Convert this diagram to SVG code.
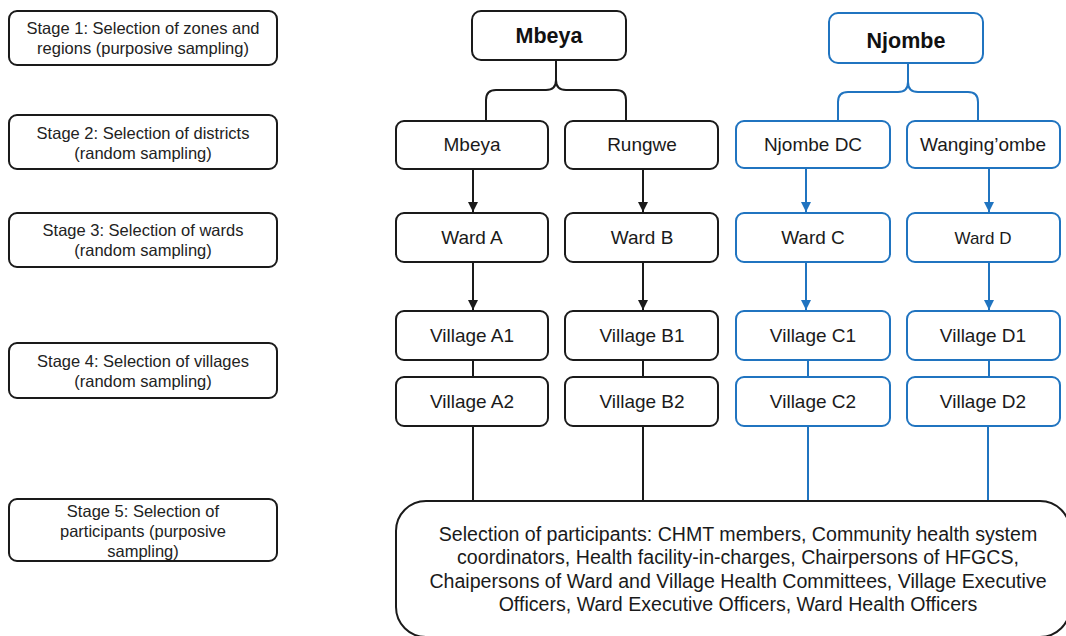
<svg xmlns="http://www.w3.org/2000/svg" width="1066" height="636" viewBox="0 0 1066 636">
<defs>
<style>
.stage{fill:#fff;stroke:#1a1a1a;stroke-width:2}
.nb{fill:#fff;stroke:#1a1a1a;stroke-width:2}
.nu{fill:#fff;stroke:#2074c0;stroke-width:2}
.st{font-family:"Liberation Sans",Arial,sans-serif;font-size:16.5px;fill:#222;text-anchor:middle}
.t{font-family:"Liberation Sans",Arial,sans-serif;font-size:19px;fill:#1a1a1a;text-anchor:middle}
.tp{font-family:"Liberation Sans",Arial,sans-serif;font-size:19.6px;fill:#1a1a1a;text-anchor:middle}
.tb{font-family:"Liberation Sans",Arial,sans-serif;font-size:21.5px;font-weight:bold;fill:#111;text-anchor:middle}
.cb{fill:none;stroke:#1a1a1a;stroke-width:2}
.cu{fill:none;stroke:#2074c0;stroke-width:2}
</style>
<marker id="ab" viewBox="0 0 10 10" refX="10" refY="5" markerWidth="5" markerHeight="5" markerUnits="strokeWidth" orient="auto"><path d="M0,0 L10,5 L0,10 z" fill="#1a1a1a"/></marker>
<marker id="au" viewBox="0 0 10 10" refX="10" refY="5" markerWidth="5" markerHeight="5" markerUnits="strokeWidth" orient="auto"><path d="M0,0 L10,5 L0,10 z" fill="#2074c0"/></marker>
</defs>
<rect width="1066" height="636" fill="#fff"/>

<g id="connectors">
<path class="cb" d="M556,60 V80 Q556,90 546,90 H496 Q486,90 486,100 V121"/>
<path class="cb" d="M556,80 Q556,90 566,90 H616 Q626,90 626,100 V121"/>
<path class="cu" d="M908,63 V82 Q908,92 898,92 H848 Q838,92 838,102 V121"/>
<path class="cu" d="M908,82 Q908,92 918,92 H968 Q978,92 978,102 V121"/>
<line class="cb" x1="473" y1="169" x2="473" y2="212" marker-end="url(#ab)"/>
<line class="cb" x1="643" y1="169" x2="643" y2="212" marker-end="url(#ab)"/>
<line class="cu" x1="806" y1="168" x2="806" y2="212" marker-end="url(#au)"/>
<line class="cu" x1="989" y1="168" x2="989" y2="212" marker-end="url(#au)"/>
<line class="cb" x1="473" y1="262" x2="473" y2="310" marker-end="url(#ab)"/>
<line class="cb" x1="643" y1="262" x2="643" y2="310" marker-end="url(#ab)"/>
<line class="cu" x1="806" y1="262" x2="806" y2="310" marker-end="url(#au)"/>
<line class="cu" x1="989" y1="262" x2="989" y2="310" marker-end="url(#au)"/>
<line class="cb" x1="473" y1="360" x2="473" y2="377"/>
<line class="cb" x1="643" y1="360" x2="643" y2="377"/>
<line class="cu" x1="808" y1="360" x2="808" y2="377"/>
<line class="cu" x1="989" y1="360" x2="989" y2="377"/>
<line class="cb" x1="473" y1="426" x2="473" y2="501"/>
<line class="cb" x1="643" y1="426" x2="643" y2="501"/>
<line class="cu" x1="808" y1="426" x2="808" y2="501"/>
<line class="cu" x1="988" y1="426" x2="988" y2="501"/>
</g>

<g id="stage1"><rect class="stage" x="9" y="11" width="268" height="54" rx="8"/><text class="st" x="143" y="34">Stage 1: Selection of zones and</text><text class="st" x="143" y="54">regions (purposive sampling)</text></g>
<g id="stage2"><rect class="stage" x="9" y="115" width="268" height="54" rx="8"/><text class="st" x="143" y="139">Stage 2: Selection of districts</text><text class="st" x="143" y="159">(random sampling)</text></g>
<g id="stage3"><rect class="stage" x="9" y="213" width="268" height="54" rx="8"/><text class="st" x="143" y="236">Stage 3: Selection of wards</text><text class="st" x="143" y="256">(random sampling)</text></g>
<g id="stage4"><rect class="stage" x="9" y="343" width="268" height="55" rx="8"/><text class="st" x="143" y="367">Stage 4: Selection of villages</text><text class="st" x="143" y="387">(random sampling)</text></g>
<g id="stage5"><rect class="stage" x="9" y="499" width="268" height="62" rx="8"/><text class="st" x="143" y="517">Stage 5: Selection of</text><text class="st" x="143" y="537">participants (purposive</text><text class="st" x="143" y="557">sampling)</text></g>

<g id="region-mbeya"><rect class="nb" x="472" y="11" width="154" height="49" rx="9"/><text class="tb" x="549" y="43">Mbeya</text></g>
<g id="region-njombe"><rect class="nu" x="829" y="13" width="154" height="50" rx="9"/><text class="tb" x="906" y="48">Njombe</text></g>

<g id="district-mbeya"><rect class="nb" x="396" y="121" width="152" height="48" rx="8"/><text class="t" x="472" y="151">Mbeya</text></g>
<g id="district-rungwe"><rect class="nb" x="565" y="121" width="153" height="48" rx="8"/><text class="t" x="642" y="151">Rungwe</text></g>
<g id="district-njombedc"><rect class="nu" x="736" y="121" width="154" height="47" rx="8"/><text class="t" x="813" y="151">Njombe DC</text></g>
<g id="district-wangingombe"><rect class="nu" x="907" y="121" width="153" height="47" rx="8"/><text class="t" x="983" y="151">Wanging’ombe</text></g>

<g id="ward-a"><rect class="nb" x="396" y="213" width="152" height="49" rx="8"/><text class="t" x="472" y="244">Ward A</text></g>
<g id="ward-b"><rect class="nb" x="565" y="213" width="153" height="49" rx="8"/><text class="t" x="642" y="244">Ward B</text></g>
<g id="ward-c"><rect class="nu" x="736" y="213" width="154" height="49" rx="8"/><text class="t" x="813" y="244">Ward C</text></g>
<g id="ward-d"><rect class="nu" x="907" y="213" width="153" height="49" rx="8"/><text class="t" x="983" y="244" style="font-size:17px">Ward D</text></g>

<g id="village-a1"><rect class="nb" x="396" y="311" width="152" height="49" rx="8"/><text class="t" x="472" y="342">Village A1</text></g>
<g id="village-b1"><rect class="nb" x="565" y="311" width="153" height="49" rx="8"/><text class="t" x="642" y="342">Village B1</text></g>
<g id="village-c1"><rect class="nu" x="736" y="311" width="154" height="49" rx="8"/><text class="t" x="813" y="342">Village C1</text></g>
<g id="village-d1"><rect class="nu" x="907" y="311" width="153" height="49" rx="8"/><text class="t" x="983" y="342">Village D1</text></g>

<g id="village-a2"><rect class="nb" x="396" y="377" width="152" height="49" rx="8"/><text class="t" x="472" y="408">Village A2</text></g>
<g id="village-b2"><rect class="nb" x="565" y="377" width="153" height="49" rx="8"/><text class="t" x="642" y="408">Village B2</text></g>
<g id="village-c2"><rect class="nu" x="736" y="377" width="154" height="49" rx="8"/><text class="t" x="813" y="408">Village C2</text></g>
<g id="village-d2"><rect class="nu" x="907" y="377" width="153" height="49" rx="8"/><text class="t" x="983" y="408">Village D2</text></g>

<g id="participants"><rect class="nb" x="396" y="501" width="674" height="136" rx="30"/>
<text class="tp" x="738" y="541">Selection of participants: CHMT members, Community health system</text>
<text class="tp" x="738" y="564">coordinators, Health facility-in-charges, Chairpersons of HFGCS,</text>
<text class="tp" x="738" y="588">Chaipersons of Ward and Village Health Committees, Village Executive</text>
<text class="tp" x="738" y="611">Officers, Ward Executive Officers, Ward Health Officers</text>
</g>
</svg>
